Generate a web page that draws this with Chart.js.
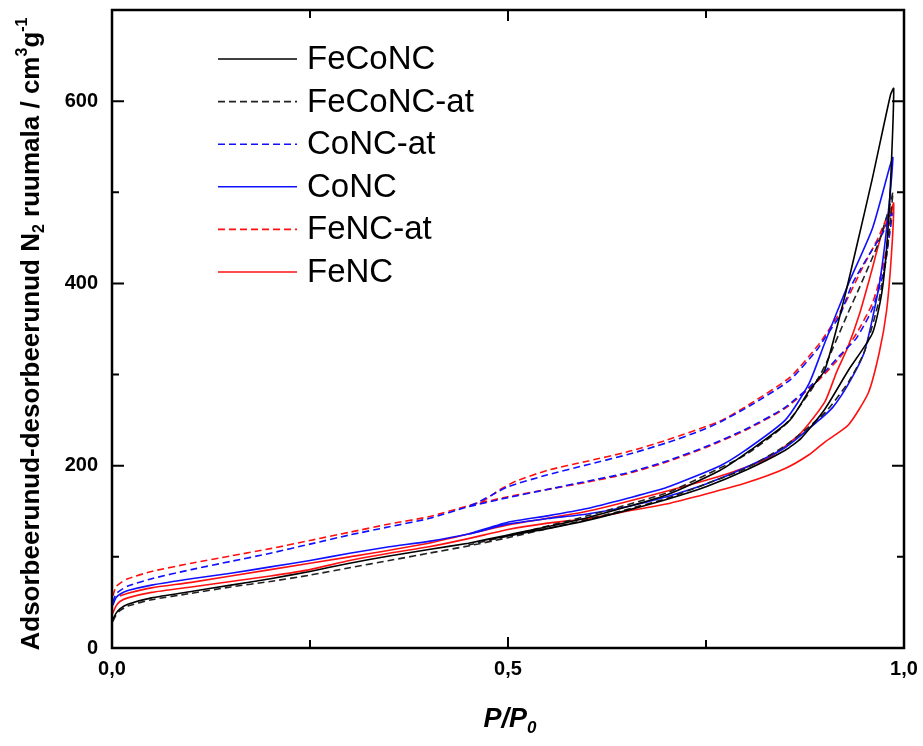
<!DOCTYPE html>
<html><head><meta charset="utf-8">
<script src="https://cdn.jsdelivr.net/npm/chart.js@4.4.0/dist/chart.umd.min.js"></script>
<style>html,body{margin:0;padding:0;background:#fff;}#wrap{width:923px;height:746px;}</style>
</head><body><div id="wrap"><canvas id="c" width="923" height="746"></canvas></div>
<script>
// ---- data (P/P0, volume cm3/g) : adsorption branch followed by desorption branch ----
const seriesNames = ['FeCoNC', 'FeCoNC-at', 'CoNC-at', 'CoNC', 'FeNC-at', 'FeNC'];

const feconcP = [0.001,0.005,0.01,0.02,0.05,0.1,0.15,0.2,0.25,0.3,0.35,0.4,0.45,0.5,0.55,0.6,0.65,0.7,0.75,0.8,0.85,0.87,0.9,0.93,0.96,0.972,0.979,0.984,0.987,
                 0.983,0.96,0.94,0.925,0.9,0.88,0.856,0.806,0.768,0.7,0.6,0.5,0.45];
const feconcV = [31,38,43,48,55,62,69,76,84,93,101,108,115,123,131,140,151,163,177,195,217,230,262,305,345,390,450,530,614,
                 607,515,440,385,305,282,250,217,195,168,143,124,115];

const feconcAtP = [0.001,0.005,0.01,0.02,0.05,0.1,0.15,0.2,0.25,0.3,0.35,0.4,0.45,0.5,0.55,0.6,0.65,0.7,0.75,0.8,0.85,0.9,0.93,0.95,0.968,0.978,0.986,
                   0.982,0.968,0.944,0.929,0.902,0.885,0.85,0.8,0.75,0.7,0.6,0.5,0.45];
const feconcAtV = [29,36,41,46,53,60,67,73,80,88,96,104,112,121,131,141,152,164,180,197,222,258,292,325,380,430,500,
                   485,445,396,367,313,286,245,212,190,170,145,123,113];

const conxAtP = [0.001,0.005,0.01,0.02,0.05,0.1,0.15,0.2,0.25,0.3,0.35,0.4,0.45,0.5,0.55,0.6,0.65,0.7,0.75,0.8,0.85,0.89,0.92,0.94,0.96,0.974,0.985,
                 0.973,0.957,0.935,0.919,0.9,0.89,0.856,0.806,0.768,0.742,0.7,0.65,0.6,0.55,0.5,0.48,0.46,0.45];
const conxAtV = [50,59,63,68,76,86,95,104,114,124,133,142,155,165,174,183,192,205,221,240,264,294,322,340,372,412,477,
                 455,433,400,365,340,327,294,266,248,238,225,212,201,190,177,168,159,155];

const conxP = [0.001,0.005,0.01,0.02,0.05,0.1,0.15,0.2,0.25,0.3,0.35,0.4,0.45,0.5,0.55,0.6,0.65,0.7,0.75,0.8,0.85,0.89,0.91,0.93,0.95,0.968,0.978,0.986,
               0.982,0.96,0.93,0.9,0.88,0.85,0.8,0.768,0.7,0.65,0.6,0.55,0.5,0.45];
const conxV = [47,55,59,63,69,76,82,89,96,104,111,117,125,136,142,147,155,166,180,198,220,248,264,290,325,395,460,538,
               528,460,400,335,290,250,217,200,176,164,153,145,138,125];

const fenxAtP = [0.001,0.005,0.01,0.02,0.05,0.1,0.15,0.2,0.25,0.3,0.35,0.4,0.45,0.5,0.55,0.6,0.65,0.7,0.75,0.8,0.85,0.89,0.92,0.94,0.96,0.974,0.985,
                 0.968,0.948,0.923,0.894,0.856,0.806,0.768,0.7,0.65,0.6,0.55,0.51,0.49,0.47,0.45];
const fenxAtV = [57,67,71,76,84,93,101,109,118,127,136,144,156,166,174,182,191,204,220,239,263,292,320,345,378,420,485,
                 451,418,374,335,297,268,249,228,215,205,195,183,174,162,156];

const fenxP = [0.001,0.005,0.01,0.02,0.05,0.1,0.15,0.2,0.25,0.3,0.35,0.4,0.45,0.5,0.55,0.6,0.65,0.7,0.75,0.8,0.85,0.88,0.9,0.93,0.955,0.969,0.978,0.984,0.987,
               0.982,0.972,0.958,0.944,0.929,0.915,0.9,0.87,0.83,0.78,0.7,0.6,0.5,0.4,0.3,0.2,0.1,0.05,0.02,0.01];
const fenxV = [38,46,51,55,61,67,73,79,86,96,104,111,120,130,137,142,150,158,169,181,197,212,226,245,280,325,370,430,488,
               475,455,410,367,330,303,270,236,209,192,172,150,135,115,100,86,72,66,60,57];

const xTickLabels = [0, 0.5, 1.0];
const xMinorTicks = [0.25, 0.75];
const yTickLabels = [0, 200, 400, 600];
const yMinorTicks = [100, 300, 500];

// ---- styles ----
const styles = [
  {color:'#000000', dash:[]},
  {color:'#222222', dash:[7,4]},
  {color:'#1010ff', dash:[7,4]},
  {color:'#1010ff', dash:[]},
  {color:'#ff1010', dash:[7,4]},
  {color:'#ff1010', dash:[]}
];
const seriesData = [[feconcP,feconcV],[feconcAtP,feconcAtV],[conxAtP,conxAtV],[conxP,conxV],[fenxAtP,fenxAtV],[fenxP,fenxV]];

const datasets = seriesNames.map((name,i)=>({
  label: name,
  data: seriesData[i][0].map((p,k)=>({x:p, y:seriesData[i][1][k]})),
  showLine: true,
  borderColor: styles[i].color,
  borderDash: styles[i].dash,
  borderWidth: 1.6,
  pointRadius: 0,
  tension: 0.2,
  fill: false
}));

const FONT = '"Liberation Sans", Arial, sans-serif';

const decor = {
  id: 'decor',
  afterDraw(chart) {
    const ctx = chart.ctx, a = chart.chartArea;
    const xs = chart.scales.x, ys = chart.scales.y;
    ctx.save();
    // frame
    ctx.strokeStyle = '#000'; ctx.lineWidth = 2.5; ctx.setLineDash([]);
    ctx.strokeRect(a.left, a.top, a.right - a.left, a.bottom - a.top);
    // inward ticks
    ctx.lineWidth = 2;
    const tickX = (v, len) => {
      const px = xs.getPixelForValue(v);
      ctx.beginPath(); ctx.moveTo(px, a.bottom); ctx.lineTo(px, a.bottom - len);
      ctx.moveTo(px, a.top); ctx.lineTo(px, a.top + len); ctx.stroke();
    };
    const tickY = (v, len) => {
      const py = ys.getPixelForValue(v);
      ctx.beginPath(); ctx.moveTo(a.left, py); ctx.lineTo(a.left + len, py);
      ctx.moveTo(a.right, py); ctx.lineTo(a.right - len, py); ctx.stroke();
    };
    xTickLabels.forEach(v => tickX(v, 11));
    xMinorTicks.forEach(v => tickX(v, 8));
    yTickLabels.forEach(v => tickY(v, 12));
    yMinorTicks.forEach(v => tickY(v, 7));

    // legend
    const lx0 = 218, lx1 = 297, tx = 307, ly0 = 59, dy = 42.6;
    chart.data.datasets.forEach((ds, i) => {
      const y = ly0 + i * dy;
      ctx.strokeStyle = ds.borderColor; ctx.lineWidth = 1.6;
      ctx.setLineDash(ds.borderDash || []);
      ctx.beginPath(); ctx.moveTo(lx0, y); ctx.lineTo(lx1, y); ctx.stroke();
      ctx.setLineDash([]);
      ctx.fillStyle = '#000'; ctx.font = '33px ' + FONT;
      ctx.textAlign = 'left'; ctx.textBaseline = 'middle';
      ctx.fillText(ds.label, tx, y + 1);
    });

    // y title with sub/superscripts
    const segs = [
      {t:'Adsorbeerunud-desorbeerunud N', k:0},
      {t:'2', k:1},
      {t:' ruumala / cm', k:0},
      {t:'3', k:-1},
      {t:'g', k:0},
      {t:'-1', k:-1}
    ];
    const fs = 26, sfs = 16;
    ctx.save();
    ctx.translate(30, 334);
    ctx.rotate(-Math.PI/2);
    ctx.textBaseline = 'alphabetic'; ctx.textAlign = 'left'; ctx.fillStyle = '#000';
    let total = 0;
    segs.forEach(s => { ctx.font = 'bold ' + (s.k ? sfs : fs) + 'px ' + FONT; s.w = ctx.measureText(s.t).width; total += s.w; });
    let cx = -total/2;
    segs.forEach(s => {
      ctx.font = 'bold ' + (s.k ? sfs : fs) + 'px ' + FONT;
      const off = s.k === 1 ? 5 : (s.k === -1 ? -12 : 0);
      ctx.fillText(s.t, cx, 9 + off);
      cx += s.w;
    });
    ctx.restore();

    // x title P/P0
    ctx.fillStyle = '#000'; ctx.textBaseline = 'alphabetic'; ctx.textAlign = 'left';
    ctx.font = 'italic bold 27px ' + FONT;
    const w1 = ctx.measureText('P/P').width;
    ctx.font = 'italic bold 17px ' + FONT;
    const w2 = ctx.measureText('0').width;
    const sx = (xs.getPixelForValue(0.5) + 2) - (w1 + w2)/2;
    ctx.font = 'italic bold 27px ' + FONT;
    ctx.fillText('P/P', sx, 727);
    ctx.font = 'italic bold 17px ' + FONT;
    ctx.fillText('0', sx + w1, 733);
    ctx.restore();
  }
};

new Chart(document.getElementById('c'), {
  type: 'scatter',
  data: { datasets },
  options: {
    responsive: false,
    devicePixelRatio: 1,
    animation: false,
    layout: { padding: { top: 10, right: 19, left: 0, bottom: 0 } },
    plugins: { legend: { display: false }, tooltip: { enabled: false } },
    scales: {
      x: {
        type: 'linear', min: 0, max: 1.0,
        afterFit: s => { s.height = 98; s.paddingLeft = 0; s.paddingRight = 0; },
        afterBuildTicks: s => { s.ticks = xTickLabels.map(v => ({value: v})); },
        grid: { display: false, drawTicks: false },
        border: { display: false },
        ticks: {
          padding: 9, color: '#000', maxRotation: 0,
          font: { family: FONT, size: 20, weight: 'bold' },
          callback: v => Number(v).toFixed(1).replace('.', ',')
        }
      },
      y: {
        type: 'linear', min: 0, max: 700,
        afterFit: s => { s.width = 112; s.paddingTop = 0; s.paddingBottom = 0; },
        afterBuildTicks: s => { s.ticks = yTickLabels.map(v => ({value: v})); },
        grid: { display: false, drawTicks: false },
        border: { display: false },
        ticks: {
          padding: 14, color: '#000',
          font: { family: FONT, size: 20, weight: 'bold' },
          callback: v => String(v)
        }
      }
    }
  },
  plugins: [decor]
});
</script>
</body></html>
